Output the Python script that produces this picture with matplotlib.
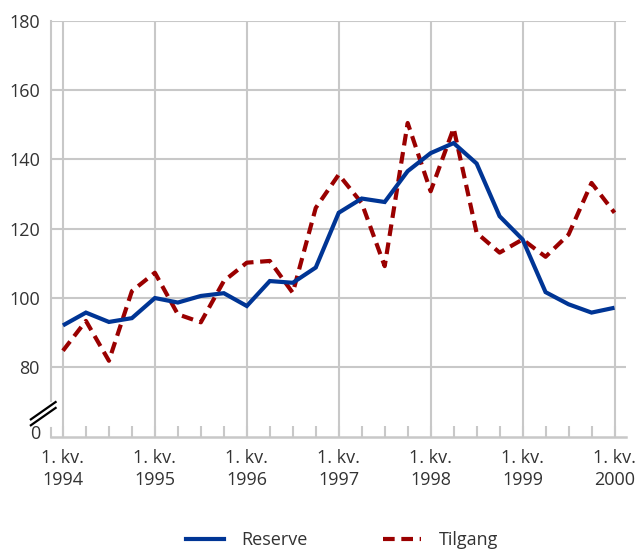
import matplotlib
matplotlib.use("Agg")
import matplotlib.pyplot as plt
from matplotlib.lines import Line2D
import matplotlib.transforms as mtransforms
import numpy as np

plt.rcParams['font.family'] = ['Open Sans', 'DejaVu Sans']

# Quarterly data, 1. kv. 1994 .. 1. kv. 2000
reserve = [92.1, 95.8, 93.1, 94.2, 100.0, 98.7, 100.6, 101.4, 97.7, 104.9, 104.4, 108.8,
           124.6, 128.7, 127.7, 136.6, 141.8, 144.7, 138.8, 123.6, 116.9, 101.7, 98.2, 95.8, 97.2]
tilgang = [84.8, 93.4, 81.9, 102.0, 107.3, 95.3, 93.0, 104.9, 110.2, 110.7, 101.5, 126.0,
           135.6, 127.4, 109.2, 150.5, 130.8, 149.0, 118.8, 113.1, 116.9, 111.9, 118.3, 133.2, 124.6]
years = ['1994', '1995', '1996', '1997', '1998', '1999', '2000']
ytick_vals = [60, 80, 100, 120, 140, 160, 180]
ytick_labels = ['0', '80', '100', '120', '140', '160', '180']

blue = '#003595'
red = '#9a0000'
grid = '#c8c8c8'
txt = '#333333'

fig = plt.figure(figsize=(6.38, 5.52), dpi=100)
ax = fig.add_axes([51/638, 1-436.7/552, (626-51)/638, (436.7-20.7)/552])

x = np.arange(len(reserve))
ax.plot(x, reserve, color=blue, lw=3.0, solid_capstyle='butt', solid_joinstyle='miter', zorder=4)
ax.plot(x, tilgang, color=red, lw=3.0, dashes=(2.8, 1.6), dash_capstyle='butt', zorder=3)

ax.set_xlim(-0.52, 24.5)
ax.set_ylim(60, 180)

year_pos = np.arange(0, len(reserve), 4)
ax.set_xticks(year_pos)
ax.set_xticklabels(['1. kv.\n' + y for y in years], fontsize=13, color=txt, linespacing=1.25)
ax.set_xticks(x, minor=True)
ax.tick_params(axis='x', which='both', direction='in', length=8, width=1.5, color=grid, pad=9)
ax.set_yticks(ytick_vals)
ax.set_yticklabels(ytick_labels, fontsize=13, color=txt)
ax.tick_params(axis='y', length=0, pad=8)

# lift the "0" label slightly above the axis line, as in the reference
zero_lbl = ax.get_yticklabels()[0]
zero_lbl.set_transform(zero_lbl.get_transform() +
                       mtransforms.ScaledTranslation(0, 5/100, fig.dpi_scale_trans))

for v in year_pos:
    ax.axvline(v, color=grid, lw=1.5, zorder=1)
for v in ytick_vals[1:]:
    ax.axhline(v, color=grid, lw=1.5, zorder=1)

for s in ['top', 'right', 'left']:
    ax.spines[s].set_visible(False)
ax.spines['bottom'].set_color(grid)
ax.spines['bottom'].set_linewidth(1.8)

# broken left spine
tr = ax.get_yaxis_transform()
ax.plot([0, 0], [60, 62.6], color=grid, lw=1.5, transform=tr, clip_on=False)
ax.plot([0, 0], [70.3, 180], color=grid, lw=1.5, transform=tr, clip_on=False)
# break marks
for dy in (0.0, 1.7):
    ax.plot([-0.035, 0.008], [63.3 + dy, 68.3 + dy], color='black', lw=1.6,
            transform=tr, clip_on=False)

handles = [Line2D([], [], color=blue, lw=3.0),
           Line2D([], [], color=red, lw=3.0, dashes=(2.8, 1.6))]
fig.legend(handles, ['Reserve', 'Tilgang'], loc='center', bbox_to_anchor=(342/638, 1-540/552),
           ncol=2, frameon=False, fontsize=13, handlelength=2.1, columnspacing=4.2,
           handletextpad=0.95, labelcolor=txt)

fig.savefig('out.png', dpi=100)
